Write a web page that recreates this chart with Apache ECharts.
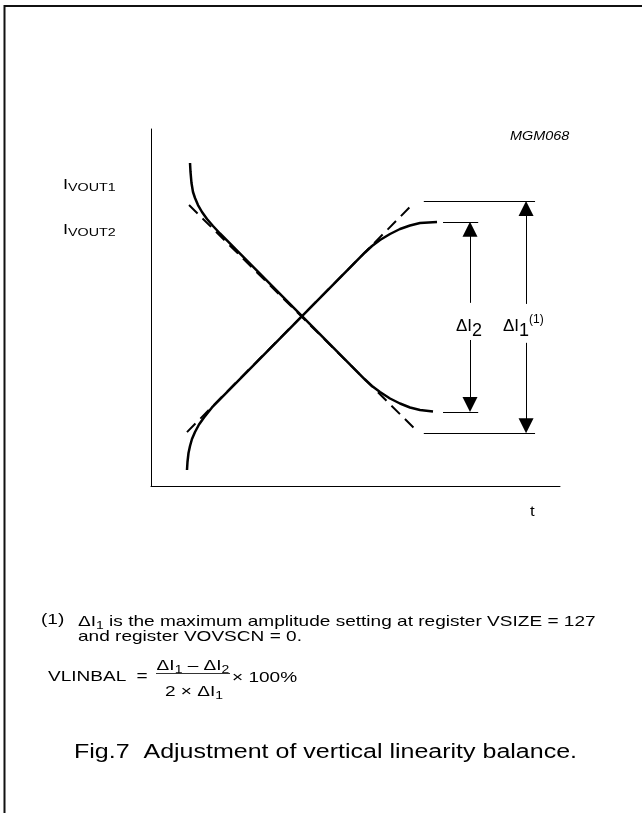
<!DOCTYPE html>
<html>
<head>
<meta charset="utf-8">
<script src="https://cdn.jsdelivr.net/npm/echarts@6/dist/echarts.min.js"></script>
<style>
  html, body { margin: 0; padding: 0; background: #fff; }
  #chart { width: 642px; height: 813px; }
</style>
</head>
<body>
<div id="chart"></div>
<script>
// values, t and I both on a 0..100 scale
const fallT = [9.54, 9.66, 9.90, 10.27, 10.76, 11.49, 12.47, 13.69, 15.16, 16.87,
  52.32, 54.03, 55.99, 58.44, 60.88, 63.33, 65.77, 68.95];
const fallI = [90.48, 87.96, 84.87, 82.35, 80.67, 78.71, 76.75, 74.79, 72.83, 70.73,
  29.83, 28.01, 26.33, 24.51, 23.11, 21.99, 21.29, 20.87];
const riseT = [8.80, 8.92, 9.17, 9.54, 10.02, 10.76, 11.74, 12.96, 14.91,
  52.32, 54.03, 55.99, 58.44, 60.88, 63.33, 65.77, 69.93];
const riseI = [4.48, 6.72, 9.24, 11.20, 13.17, 15.13, 17.23, 19.19, 21.99,
  65.41, 67.23, 68.91, 70.59, 71.99, 72.97, 73.67, 73.95];

// dashed ideal (linear) lines
const fallLineT = [9.3, 65.3];
const fallLineI = [78.7, 15.1];
const riseLineT = [8.8, 64.3];
const riseLineI = [15.1, 79.3];

// amplitude levels: [top, bottom], extent of the level marks and arrow position
const levelI1 = [79.8, 14.8];
const levelI1T = [66.7, 93.9];
const arrowI1T = 91.7;
const gapI1 = [51.0, 40.1];
const levelI2 = [74.0, 20.7];
const levelI2T = [71.4, 80.0];
const arrowI2T = 78.0;
const gapI2 = [51.3, 40.9];

const zip = (a, b) => a.map((v, i) => [v, b[i]]);

const chart = echarts.init(document.getElementById('chart'));

const FONT = '"Liberation Sans", Arial, Helvetica, sans-serif';
const arrowHalf = 7.5 / 3.57; // half arrow head length in I units

function arrows(t, level, gap) {
  return [
    { coords: [[t, gap[0]], [t, level[0] - arrowHalf]] },
    { coords: [[t, gap[1]], [t, level[1] + arrowHalf]] }
  ];
}

function levelMarks(level, ext) {
  return level.map(v => ({ coords: [[ext[0], v], [ext[1], v]] }));
}

// one rich-text style: font size, line height, top padding (drops the token)
function rs(size, lh, drop) {
  return { fontSize: size, fontFamily: FONT, fill: '#000', lineHeight: lh, verticalAlign: 'top', padding: [drop, 0, 0, 0] };
}

// small text in the footnote / formula: n normal, s subscript
const noteRich = { n: rs(15, 16, 2), s: rs(11, 16, 8) };

function txt(x, y, text, size, opts) {
  opts = opts || {};
  return {
    type: 'text', x: x, y: y, silent: true, scaleX: opts.sx || 1,
    style: {
      text: text, fill: '#000',
      fontSize: size, fontFamily: FONT, fontStyle: opts.italic ? 'italic' : 'normal',
      align: opts.align || 'left', verticalAlign: 'middle',
      rich: opts.rich || {}
    }
  };
}

const option = {
  animation: false,
  backgroundColor: '#fff',
  grid: { left: 151, top: 129, width: 409, height: 357 },
  xAxis: {
    type: 'value', min: 0, max: 100,
    axisLine: { show: true, onZero: false, lineStyle: { color: '#000', width: 1 } },
    axisTick: { show: false }, axisLabel: { show: false }, splitLine: { show: false }
  },
  yAxis: {
    type: 'value', min: 0, max: 100,
    axisLine: { show: true, onZero: false, lineStyle: { color: '#000', width: 1 } },
    axisTick: { show: false }, axisLabel: { show: false }, splitLine: { show: false }
  },
  series: [
    {
      type: 'line', data: zip(fallLineT, fallLineI), symbol: 'none', z: 2,
      lineStyle: { color: '#000', width: 2, type: [12, 7] }
    },
    {
      type: 'line', data: zip(riseLineT, riseLineI), symbol: 'none', z: 2,
      lineStyle: { color: '#000', width: 2, type: [12, 7] }
    },
    {
      type: 'line', data: zip(fallT, fallI), symbol: 'none', z: 3,
      lineStyle: { color: '#000', width: 2.5, join: 'round' }
    },
    {
      type: 'line', data: zip(riseT, riseI), symbol: 'none', z: 3,
      lineStyle: { color: '#000', width: 2.5, join: 'round' }
    },
    {
      type: 'lines', coordinateSystem: 'cartesian2d', silent: true,
      data: levelMarks(levelI1, levelI1T).concat(levelMarks(levelI2, levelI2T)),
      lineStyle: { color: '#000', width: 1, opacity: 1 }
    },
    {
      type: 'lines', coordinateSystem: 'cartesian2d', silent: true,
      symbol: ['none', 'triangle'], symbolSize: [8, 15],
      data: arrows(arrowI1T, levelI1, gapI1).concat(arrows(arrowI2T, levelI2, gapI2)),
      lineStyle: { color: '#000', width: 1, opacity: 1 }
    }
  ],
  graphic: [
    {
      type: 'polyline', silent: true,
      shape: { points: [[4.5, 813], [4.5, 6], [642, 6]] },
      style: { stroke: '#111', lineWidth: 2, fill: null }
    },
    txt(510, 137, 'MGM068', 12, { italic: true, sx: 1.2 }),
    txt(63, 185, '{i|I}{v|VOUT1}', 14, { sx: 1.3, rich: { i: rs(14, 14, 0), v: rs(11, 14, 4) } }),
    txt(63, 230, '{i|I}{v|VOUT2}', 14, { sx: 1.3, rich: { i: rs(14, 14, 0), v: rs(11, 14, 4) } }),
    txt(530, 512, 't', 14, { sx: 1.2 }),
    txt(456, 323, '{n|ΔI}{b|2}', 17, { rich: { n: rs(17, 19, 4), b: rs(18, 19, 9) } }),
    txt(503, 323, '{n|ΔI}{b|1}{p|(1)}', 17, { rich: { n: rs(17, 19, 4), b: rs(18, 19, 9), p: rs(12, 19, 0) } }),
    // footnote
    txt(41, 620, '(1)', 15, { sx: 1.27 }),
    txt(78, 620, '{n|ΔI}{s|1}{n| is the maximum amplitude setting at register VSIZE = 127}', 15, { sx: 1.27, rich: noteRich }),
    txt(78, 637, 'and register VOVSCN = 0.', 15, { sx: 1.27 }),
    // formula
    txt(48, 677, 'VLINBAL', 15, { sx: 1.27 }),
    txt(142, 677, '=', 15, { sx: 1.27, align: 'center' }),
    txt(193, 664, '{n|ΔI}{s|1}{n| – ΔI}{s|2}', 15, { sx: 1.27, align: 'center', rich: noteRich }),
    {
      type: 'line', silent: true,
      shape: { x1: 156, y1: 673.5, x2: 230, y2: 673.5 },
      style: { stroke: '#000', lineWidth: 0.8 }
    },
    txt(194, 690, '{n|2 × ΔI}{s|1}', 15, { sx: 1.27, align: 'center', rich: noteRich }),
    txt(232, 678, '× 100%', 15, { sx: 1.27 }),
    // caption
    txt(74, 752, 'Fig.7  Adjustment of vertical linearity balance.', 20, { sx: 1.25 })
  ]
};

chart.setOption(option);
</script>
</body>
</html>
